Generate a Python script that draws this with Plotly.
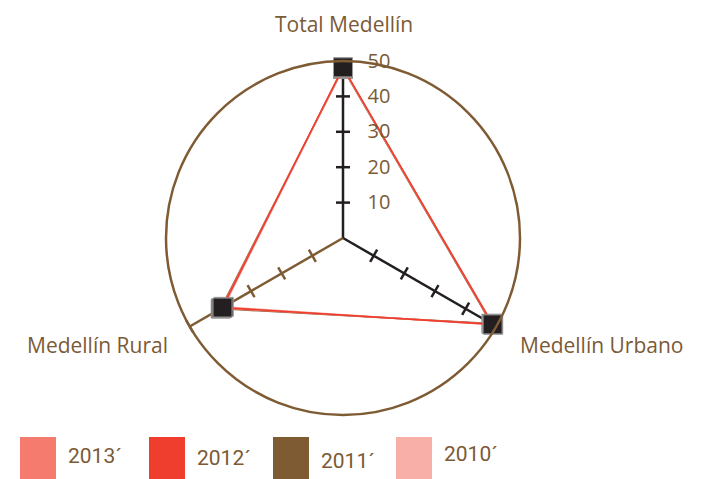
import plotly.graph_objects as go

# ── 데이터 ──────────────────────────────────────────────
categories = ["Total Medellín", "Medellín Urbano", "Medellín Rural"]
years = ["2013´", "2012´", "2011´", "2010´"]
vals_2013 = [48.0, 48.6, 39.6]
vals_2012 = [48.2, 48.8, 39.3]
vals_2011 = [47.8, 48.4, 39.9]
vals_2010 = [48.0, 49.0, 38.9]
radial_ticks = [10, 20, 30, 40, 50]

series = {"2013´": vals_2013, "2012´": vals_2012, "2011´": vals_2011, "2010´": vals_2010}
COLORS = {"2013´": "#F47B6E", "2012´": "#EF3E2E", "2011´": "#7F5B34", "2010´": "#F8AFA8"}
BROWN = "#7B5A36"
DARK = "#231F20"
spoke_colors = [DARK, DARK, "#7F5B34"]
spoke_tick_angle = [0, 120, 240]
FONT = "Open Sans"
W, H = 702, 479
OFF = 8  # 페이지 body 여백


def px_x(x):
    return (x - OFF) / W


def px_y(y):
    return 1 - (y - OFF) / H


fig = go.Figure()

# 축(스포크) + 눈금
for cat, col, ang in zip(categories, spoke_colors, spoke_tick_angle):
    fig.add_trace(go.Scatterpolar(
        r=[0, 50], theta=[cat, cat], mode="lines",
        line=dict(color=col, width=2.5), showlegend=False, hoverinfo="skip"
    ))
    fig.add_trace(go.Scatterpolar(
        r=radial_ticks, theta=[cat] * len(radial_ticks), mode="markers",
        marker=dict(symbol="line-ew", size=10, angle=ang,
                    line=dict(color=col, width=2.5)),
        showlegend=False, hoverinfo="skip"
    ))

# 시리즈 (2011 먼저, 위로 갈수록 나중에)
for name in ["2011´", "2010´", "2013´", "2012´"]:
    v = series[name]
    fig.add_trace(go.Scatterpolar(
        r=v + v[:1], theta=categories + categories[:1],
        mode="lines+markers", name=name,
        line=dict(color=COLORS[name], width=1.6),
        marker=dict(symbol="square", size=19, color=DARK,
                    line=dict(color="#9a9a9a", width=1)),
        showlegend=False
    ))

fig.update_layout(
    width=W, height=H,
    paper_bgcolor="white", plot_bgcolor="white",
    margin=dict(l=0, r=0, t=0, b=0),
    polar=dict(
        domain=dict(x=[158 / W, 512 / W], y=[1 - 407 / H, 1 - 53 / H]),
        bgcolor="rgba(0,0,0,0)",
        radialaxis=dict(range=[0, 50], tickvals=radial_ticks, showgrid=False,
                        showline=False, ticks="outside", ticklen=20,
                        tickcolor="rgba(0,0,0,0)", angle=90, tickangle=90,
                        tickfont=dict(family=FONT, size=20, color=BROWN)),
        angularaxis=dict(direction="clockwise", rotation=90, showgrid=False,
                         showticklabels=False, ticks="", showline=True,
                         linecolor="#7F5B34", linewidth=2.5),
    ),
)

# 카테고리 라벨
label_pos = [(344, None), (601, 345), (97, 345)]
for cat, (sx, sy) in zip(categories, label_pos):
    if sy is None:
        y, yanchor = 1, "top"
    else:
        y, yanchor = px_y(sy), "middle"
    fig.add_annotation(text=cat, x=px_x(sx), y=y, xref="paper", yref="paper",
                       showarrow=False, xanchor="center", yanchor=yanchor,
                       font=dict(family=FONT, size=21, color=BROWN))

# 범례 (사각형 + 텍스트)
legend_x = [20, 149, 273, 396]
legend_label_y = [456, 458, 461, 454]
for name, lx, ly in zip(years, legend_x, legend_label_y):
    fig.add_shape(type="rect", xref="paper", yref="paper",
                  x0=px_x(lx), x1=px_x(lx + 36), y0=px_y(487), y1=px_y(437),
                  fillcolor=COLORS[name], line=dict(width=0))
    fig.add_annotation(text=name, x=px_x(lx + 46), y=px_y(ly), xref="paper", yref="paper",
                       showarrow=False, xanchor="left", yanchor="middle",
                       font=dict(family="Roboto", size=21, color=BROWN))

fig.write_html("out.html")
